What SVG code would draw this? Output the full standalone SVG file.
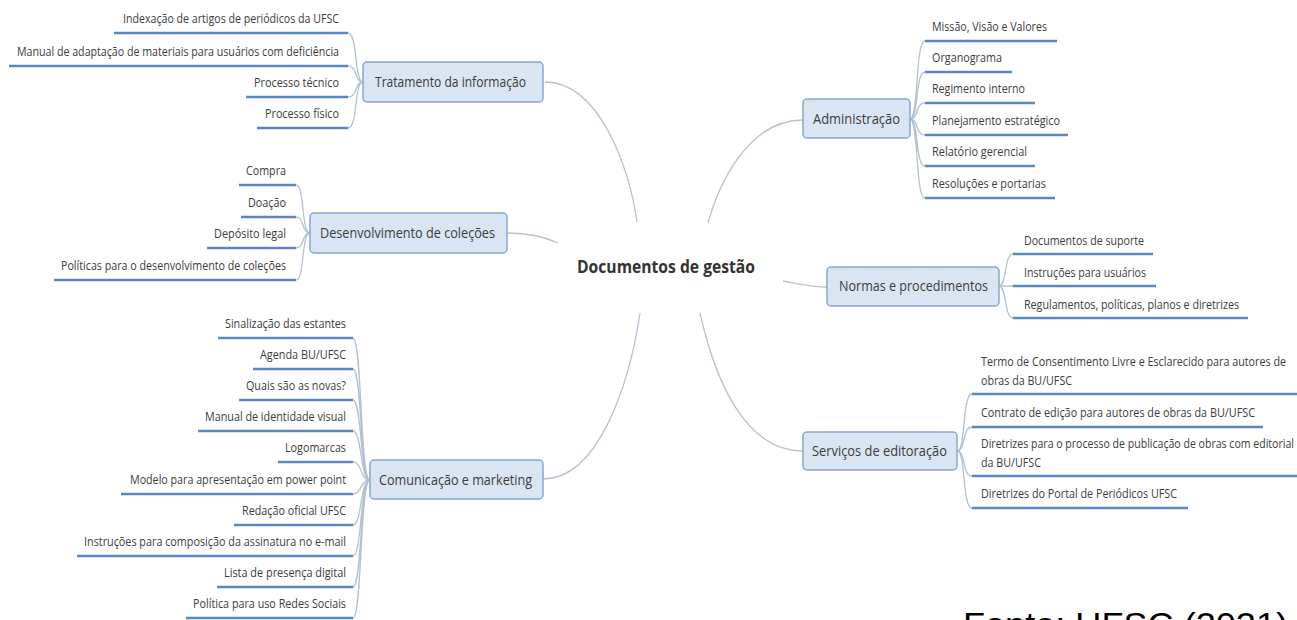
<svg xmlns="http://www.w3.org/2000/svg" width="1297" height="620" viewBox="0 0 1297 620">
<style>
.bx{fill:#dae5f3;stroke:#86a6d0;stroke-width:1.5}
.lbl{font-family:"Open Sans","Liberation Sans",sans-serif;font-size:15px;fill:#3c3c3c}
.ch{font-family:"Open Sans","Liberation Sans",sans-serif;font-size:12px;fill:#3c3c3c}
.ul{stroke:#5b87c0;stroke-width:2.5;fill:none}
.con{fill:none;stroke:#b3c2d3;stroke-width:1.3}
.ctr{font-family:"Open Sans","Liberation Sans",sans-serif;font-size:17px;font-weight:bold;fill:#333}
</style>
<rect width="1297" height="620" fill="#fff"/>
<g id="connectors">
<path class="con" d="M545,82 C600,82 630,170 637,222"/>
<path class="con" d="M507,233 C530,233 545,237 558,243"/>
<path class="con" d="M543,479 C600,479 630,380 640,313"/>
<path class="con" d="M803,120 C750,120 720,180 708,223"/>
<path class="con" d="M783,281 C800,284 810,287 827,287"/>
<path class="con" d="M803,451 C745,451 715,380 700,313"/>
<path class="con" d="M363,82 C354,82 358,33 348,33 M363,82 C354,82 358,66 348,66 M363,82 C354,82 358,97 348,97 M363,82 C354,82 358,128 348,128"/>
<path class="con" d="M310,233 C301,233 305,185 296,185 M310,233 C301,233 305,217 296,217 M310,233 C301,233 305,248 296,248 M310,233 C301,233 305,280 296,280"/>
<path class="con" d="M370,480 C360,480 362,338 353,338 M370,480 C360,480 362,369 353,369 M370,480 C360,480 362,400 353,400 M370,480 C360,480 362,431 353,431 M370,480 C360,480 362,462 353,462 M370,480 C360,480 362,494 353,494 M370,480 C360,480 362,525 353,525 M370,480 C360,480 362,556 353,556 M370,480 C360,480 362,587 353,587 M370,480 C360,480 362,618 353,618"/>
<path class="con" d="M910,119 C919,119 915,41 925,41 M910,119 C919,119 915,72 925,72 M910,119 C919,119 915,103 925,103 M910,119 C919,119 915,135 925,135 M910,119 C919,119 915,166 925,166 M910,119 C919,119 915,198 925,198"/>
<path class="con" d="M999,286 C1007,286 1004,254 1013,254 M999,286 C1007,286 1004,286 1013,286 M999,286 C1007,286 1004,318 1013,318"/>
<path class="con" d="M957,451 C966,451 962,394 972,394 M957,451 C966,451 962,427 972,427 M957,451 C966,451 962,476 972,476 M957,451 C966,451 962,508 972,508"/>
</g>
<g id="center"><text class="ctr" x="577" y="273" textLength="178" lengthAdjust="spacingAndGlyphs">Documentos de gestão</text></g>
<g id="tratamento"><rect class="bx" x="363" y="62" width="180" height="40" rx="4"/><text class="lbl" x="375" y="87" textLength="151" lengthAdjust="spacingAndGlyphs">Tratamento da informação</text></g>
<g id="desenvolvimento"><rect class="bx" x="310" y="213" width="197" height="40" rx="4"/><text class="lbl" x="320" y="238" textLength="175" lengthAdjust="spacingAndGlyphs">Desenvolvimento de coleções</text></g>
<g id="comunicacao"><rect class="bx" x="370" y="460" width="173" height="39" rx="4"/><text class="lbl" x="379" y="485" textLength="153" lengthAdjust="spacingAndGlyphs">Comunicação e marketing</text></g>
<g id="administracao"><rect class="bx" x="803" y="99" width="107" height="39" rx="4"/><text class="lbl" x="813" y="124" textLength="87" lengthAdjust="spacingAndGlyphs">Administração</text></g>
<g id="normas"><rect class="bx" x="827" y="267" width="172" height="39" rx="4"/><text class="lbl" x="839" y="291" textLength="149" lengthAdjust="spacingAndGlyphs">Normas e procedimentos</text></g>
<g id="servicos"><rect class="bx" x="803" y="432" width="154" height="38" rx="4"/><text class="lbl" x="812" y="456" textLength="135" lengthAdjust="spacingAndGlyphs">Serviços de editoração</text></g>

<g id="t1"><text class="ch" x="123" y="23" textLength="216" lengthAdjust="spacingAndGlyphs">Indexação de artigos de periódicos da UFSC</text><line class="ul" x1="114" y1="33" x2="348" y2="33"/></g>
<g id="t2"><text class="ch" x="17" y="56" textLength="322" lengthAdjust="spacingAndGlyphs">Manual de adaptação de materiais para usuários com deficiência</text><line class="ul" x1="9" y1="66" x2="348" y2="66"/></g>
<g id="t3"><text class="ch" x="254" y="87" textLength="85" lengthAdjust="spacingAndGlyphs">Processo técnico</text><line class="ul" x1="246" y1="97" x2="348" y2="97"/></g>
<g id="t4"><text class="ch" x="265" y="118" textLength="74" lengthAdjust="spacingAndGlyphs">Processo físico</text><line class="ul" x1="257" y1="128" x2="348" y2="128"/></g>

<g id="d1"><text class="ch" x="246" y="175" textLength="40" lengthAdjust="spacingAndGlyphs">Compra</text><line class="ul" x1="239" y1="185" x2="296" y2="185"/></g>
<g id="d2"><text class="ch" x="248" y="207" textLength="38" lengthAdjust="spacingAndGlyphs">Doação</text><line class="ul" x1="241" y1="217" x2="296" y2="217"/></g>
<g id="d3"><text class="ch" x="214" y="238" textLength="72" lengthAdjust="spacingAndGlyphs">Depósito legal</text><line class="ul" x1="207" y1="248" x2="296" y2="248"/></g>
<g id="d4"><text class="ch" x="61" y="270" textLength="225" lengthAdjust="spacingAndGlyphs">Políticas para o desenvolvimento de coleções</text><line class="ul" x1="54" y1="280" x2="296" y2="280"/></g>

<g id="c1"><text class="ch" x="225" y="328" textLength="121" lengthAdjust="spacingAndGlyphs">Sinalização das estantes</text><line class="ul" x1="218" y1="338" x2="353" y2="338"/></g>
<g id="c2"><text class="ch" x="260" y="359" textLength="86" lengthAdjust="spacingAndGlyphs">Agenda BU/UFSC</text><line class="ul" x1="253" y1="369" x2="353" y2="369"/></g>
<g id="c3"><text class="ch" x="246" y="390" textLength="100" lengthAdjust="spacingAndGlyphs">Quais são as novas?</text><line class="ul" x1="239" y1="400" x2="353" y2="400"/></g>
<g id="c4"><text class="ch" x="205" y="421" textLength="141" lengthAdjust="spacingAndGlyphs">Manual de identidade visual</text><line class="ul" x1="198" y1="431" x2="353" y2="431"/></g>
<g id="c5"><text class="ch" x="285" y="452" textLength="61" lengthAdjust="spacingAndGlyphs">Logomarcas</text><line class="ul" x1="278" y1="462" x2="353" y2="462"/></g>
<g id="c6"><text class="ch" x="130" y="484" textLength="216" lengthAdjust="spacingAndGlyphs">Modelo para apresentação em power point</text><line class="ul" x1="121" y1="494" x2="353" y2="494"/></g>
<g id="c7"><text class="ch" x="242" y="515" textLength="104" lengthAdjust="spacingAndGlyphs">Redação oficial UFSC</text><line class="ul" x1="234" y1="525" x2="353" y2="525"/></g>
<g id="c8"><text class="ch" x="84" y="546" textLength="262" lengthAdjust="spacingAndGlyphs">Instruções para composição da assinatura no e-mail</text><line class="ul" x1="77" y1="556" x2="353" y2="556"/></g>
<g id="c9"><text class="ch" x="224" y="577" textLength="122" lengthAdjust="spacingAndGlyphs">Lista de presença digital</text><line class="ul" x1="217" y1="587" x2="353" y2="587"/></g>
<g id="c10"><text class="ch" x="193" y="608" textLength="153" lengthAdjust="spacingAndGlyphs">Política para uso Redes Sociais</text><line class="ul" x1="186" y1="618" x2="353" y2="618"/></g>

<g id="a1"><text class="ch" x="932" y="31" textLength="115" lengthAdjust="spacingAndGlyphs">Missão, Visão e Valores</text><line class="ul" x1="925" y1="41" x2="1057" y2="41"/></g>
<g id="a2"><text class="ch" x="932" y="62" textLength="70" lengthAdjust="spacingAndGlyphs">Organograma</text><line class="ul" x1="925" y1="72" x2="1012" y2="72"/></g>
<g id="a3"><text class="ch" x="932" y="93" textLength="93" lengthAdjust="spacingAndGlyphs">Regimento interno</text><line class="ul" x1="925" y1="103" x2="1035" y2="103"/></g>
<g id="a4"><text class="ch" x="932" y="125" textLength="128" lengthAdjust="spacingAndGlyphs">Planejamento estratégico</text><line class="ul" x1="925" y1="135" x2="1068" y2="135"/></g>
<g id="a5"><text class="ch" x="932" y="156" textLength="95" lengthAdjust="spacingAndGlyphs">Relatório gerencial</text><line class="ul" x1="925" y1="166" x2="1035" y2="166"/></g>
<g id="a6"><text class="ch" x="932" y="188" textLength="114" lengthAdjust="spacingAndGlyphs">Resoluções e portarias</text><line class="ul" x1="925" y1="198" x2="1055" y2="198"/></g>

<g id="n1"><text class="ch" x="1024" y="245" textLength="120" lengthAdjust="spacingAndGlyphs">Documentos de suporte</text><line class="ul" x1="1013" y1="254" x2="1153" y2="254"/></g>
<g id="n2"><text class="ch" x="1024" y="277" textLength="122" lengthAdjust="spacingAndGlyphs">Instruções para usuários</text><line class="ul" x1="1013" y1="286" x2="1156" y2="286"/></g>
<g id="n3"><text class="ch" x="1024" y="309" textLength="215" lengthAdjust="spacingAndGlyphs">Regulamentos, políticas, planos e diretrizes</text><line class="ul" x1="1013" y1="318" x2="1248" y2="318"/></g>

<g id="s1"><text class="ch" x="981" y="366" textLength="305" lengthAdjust="spacingAndGlyphs">Termo de Consentimento Livre e Esclarecido para autores de</text><text class="ch" x="981" y="385" textLength="91" lengthAdjust="spacingAndGlyphs">obras da BU/UFSC</text><line class="ul" x1="972" y1="394" x2="1297" y2="394"/></g>
<g id="s2"><text class="ch" x="981" y="417" textLength="274" lengthAdjust="spacingAndGlyphs">Contrato de edição para autores de obras da BU/UFSC</text><line class="ul" x1="972" y1="427" x2="1263" y2="427"/></g>
<g id="s3"><text class="ch" x="981" y="448" textLength="313" lengthAdjust="spacingAndGlyphs">Diretrizes para o processo de publicação de obras com editorial</text><text class="ch" x="981" y="467" textLength="60" lengthAdjust="spacingAndGlyphs">da BU/UFSC</text><line class="ul" x1="972" y1="476" x2="1297" y2="476"/></g>
<g id="s4"><text class="ch" x="981" y="498" textLength="196" lengthAdjust="spacingAndGlyphs">Diretrizes do Portal de Periódicos UFSC</text><line class="ul" x1="972" y1="508" x2="1188" y2="508"/></g>

<text x="963" y="636" font-family="Liberation Sans, Arial, sans-serif" font-size="34" fill="#000" textLength="325" lengthAdjust="spacingAndGlyphs">Fonte: UFSC (2021)</text>
</svg>
